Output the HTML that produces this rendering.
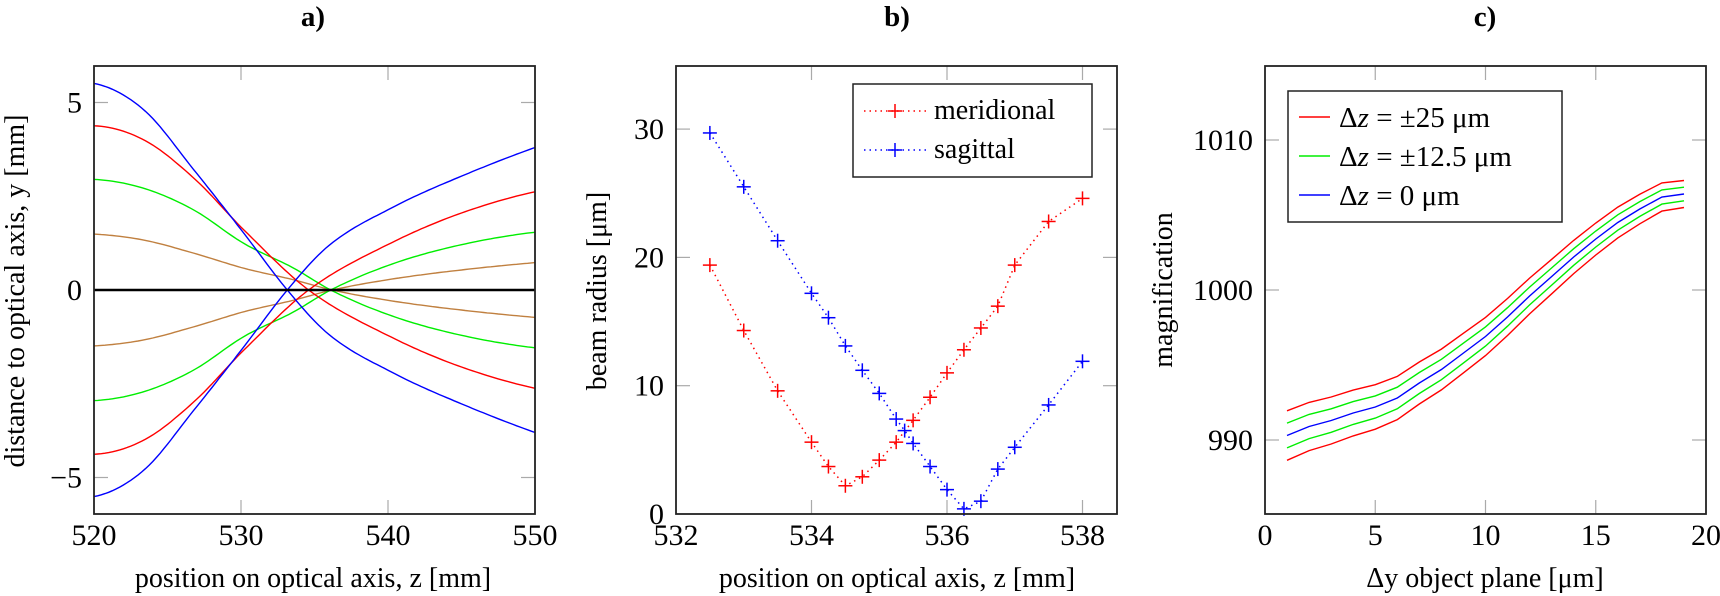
<!DOCTYPE html>
<html><head><meta charset="utf-8"><style>
html,body{margin:0;padding:0;background:#fff;}
svg{display:block;font-family:"Liberation Serif",serif;}
</style></head><body>
<svg id="s" width="1720" height="596" viewBox="0 0 1720 596" xmlns="http://www.w3.org/2000/svg">
<g font-weight="bold" font-size="29" text-anchor="middle">
<text x="313" y="26">a)</text><text x="897" y="26">b)</text><text x="1485" y="26">c)</text>
</g>
<g id="content"></g>
</svg>
<script>
const NS="http://www.w3.org/2000/svg";
const C=document.getElementById('content');
function el(t,a,txt){const e=document.createElementNS(NS,t);for(const k in a)e.setAttribute(k,a[k]);if(txt!==undefined)e.textContent=txt;C.appendChild(e);return e;}
function line(x1,y1,x2,y2,st,w,da){const a={x1,y1,x2,y2,stroke:st,'stroke-width':w||1};if(da)a['stroke-dasharray']=da;el('line',a);}
function txt(x,y,s,fs,anc,extra){const a={x,y,'font-size':fs,'text-anchor':anc||'middle'};Object.assign(a,extra||{});el('text',a,s);}
function axes(L,R,T,B,xt,yt){
  xt.forEach(x=>{line(x,T,x,T+14,'#aaa',1.2);line(x,B,x,B-14,'#aaa',1.2);});
  yt.forEach(y=>{line(L,y,L+14,y,'#aaa',1.2);line(R,y,R-14,y,'#aaa',1.2);});
}
function frame(L,R,T,B){el('rect',{x:L,y:T,width:R-L,height:B-T,fill:'none',stroke:'#222','stroke-width':1.8});}

function monotone(xs,ys){
  const n=xs.length,d=[],m=new Array(n);
  for(let i=0;i<n-1;i++)d.push((ys[i+1]-ys[i])/(xs[i+1]-xs[i]));
  for(let i=1;i<n-1;i++){m[i]=(d[i-1]*d[i]<=0)?0:(d[i-1]+d[i])/2;}
  m[0]=2*d[0]-m[1]; if(m[0]*d[0]<0)m[0]=0;
  m[n-1]=2*d[n-2]-m[n-2]; if(m[n-1]*d[n-2]<0)m[n-1]=0;
  for(let i=0;i<n-1;i++){
    if(d[i]===0){m[i]=m[i+1]=0;continue;}
    const a=m[i]/d[i],b=m[i+1]/d[i],s=a*a+b*b;
    if(s>9){const t=3/Math.sqrt(s);m[i]=t*a*d[i];m[i+1]=t*b*d[i];}
  }
  return function(x){
    let i=0;while(i<n-2&&x>xs[i+1])i++;
    const h=xs[i+1]-xs[i],t=(x-xs[i])/h,t2=t*t,t3=t2*t;
    return (2*t3-3*t2+1)*ys[i]+(t3-2*t2+t)*h*m[i]+(-2*t3+3*t2)*ys[i+1]+(t3-t2)*h*m[i+1];
  };
}

/* ---------- Panel a ---------- */
(function(){
const L=94,R=535,T=66,B=514;
const X=z=>L+(z-520)*(R-L)/30, Y=y=>290-y*37.5;
axes(L,R,T,B,[530,540].map(X),[5,0,-5].map(Y));
const curves=[
 ['#c08040',[520,523.4,526.8,530.2,533.6,536.2,540.4,544.9,550],[1.49,1.33,0.98,0.58,0.27,0,-0.3,-0.53,-0.73]],
 ['#00ee00',[520,523.4,526.8,530.2,533.6,536.1,540.4,544.9,550],[2.95,2.71,2.13,1.24,0.58,0,-0.71,-1.2,-1.54]],
 ['#ff0000',[520,523.4,526.8,530.2,534.6,540.4,544.9,550],[4.38,4.0,2.98,1.6,0,-1.29,-2.04,-2.62]],
 ['#0000ff',[520,523.4,526.8,530.2,533.15,535.9,540.4,544.9,550],[5.51,4.8,3.2,1.51,0,-1.16,-2.22,-3.02,-3.8]],
];
curves.forEach(([c,xs,ys])=>{
  const f=monotone(xs,ys);
  [1,-1].forEach(s=>{
    let d='';
    for(let z=520;z<=550.001;z+=0.25){d+=(d?'L':'M')+X(z).toFixed(1)+','+Y(s*f(z)).toFixed(1);}
    el('path',{d,fill:'none',stroke:c,'stroke-width':1.4});
  });
});
line(L,Y(0),R,Y(0),'#000',2.4);
frame(L,R,T,B);
[520,530,540,550].forEach(v=>txt(X(v),545,String(v),30));
txt(82,Y(5)+10,'5',30,'end');txt(82,Y(0)+10,'0',30,'end');txt(82,Y(-5)+10,'−5',30,'end');
txt(313,587,'position on optical axis, z [mm]',28);
txt(0,0,'distance to optical axis, y [mm]',28,'middle',{transform:'translate(24,291) rotate(-90)'});
})();

/* ---------- Panel b ---------- */
(function(){
const L=676,R=1117,T=66,B=514;
const X=z=>L+(z-532)*67.75, Y=y=>B-y*12.83;
axes(L,R,T,B,[534,536,538].map(X),[10,20,30].map(Y));
const mer=[[532.5,19.4],[533,14.3],[533.5,9.6],[534,5.6],[534.25,3.7],[534.5,2.2],[534.75,2.9],[535,4.2],[535.25,5.6],[535.5,7.3],[535.75,9.1],[536,11],[536.25,12.8],[536.5,14.5],[536.75,16.2],[537,19.4],[537.5,22.8],[538,24.6]];
const sag=[[532.5,29.7],[533,25.5],[533.5,21.3],[534,17.2],[534.25,15.3],[534.5,13.1],[534.75,11.2],[535,9.4],[535.25,7.4],[535.375,6.5],[535.5,5.5],[535.75,3.7],[536,1.9],[536.25,0.4],[536.5,1.0],[536.75,3.5],[537,5.2],[537.5,8.5],[538,11.9]];
function series(d,c){
  el('polyline',{points:d.map(p=>X(p[0]).toFixed(1)+','+Y(p[1]).toFixed(1)).join(' '),fill:'none',stroke:c,'stroke-width':1.5,'stroke-dasharray':'1.5 4'});
  d.forEach(p=>{const x=X(p[0]),y=Y(p[1]);line(x-7,y,x+7,y,c,1.5);line(x,y-7,x,y+7,c,1.5);});
}
series(mer,'#ff0000');series(sag,'#0000ff');
frame(L,R,T,B);
[532,534,536,538].forEach(v=>txt(X(v),545,String(v),30));
[0,10,20,30].forEach(v=>txt(664,Y(v)+10,String(v),30,'end'));
txt(897,587,'position on optical axis, z [mm]',28);
txt(0,0,'beam radius [μm]',28,'middle',{transform:'translate(606,291) rotate(-90)'});
el('rect',{x:853,y:84,width:239,height:93,fill:'#fff',stroke:'#222','stroke-width':1.5});
[['#ff0000',111,'meridional'],['#0000ff',150,'sagittal']].forEach(([c,y,t])=>{
  line(864,y,927,y,c,1.5,'1.5 4');
  line(888,y,902,y,c,1.5);line(895,y-7,895,y+7,c,1.5);
  txt(934,y+8,t,28,'start');
});
})();

/* ---------- Panel c ---------- */
(function(){
const L=1265,R=1706,T=66,B=514;
const X=x=>L+x*22.05, Y=y=>290-(y-1000)*15;
axes(L,R,T,B,[5,10,15].map(X),[990,1000,1010].map(Y));
const mid=[990.3,990.9,991.3,991.8,992.2,992.8,993.8,994.7,995.8,996.9,998.2,999.6,1000.9,1002.2,1003.4,1004.5,1005.4,1006.2,1006.4];
function off(i){return 1.65-(0.75)*(i/18);}
const sets=[['#0000ff',0],['#00ee00',0.5],['#00ee00',-0.5],['#ff0000',1],['#ff0000',-1]];
sets.forEach(([c,k])=>{
  el('polyline',{points:mid.map((m,i)=>X(i+1).toFixed(1)+','+Y(m+k*off(i)).toFixed(1)).join(' '),fill:'none',stroke:c,'stroke-width':1.4});
});
frame(L,R,T,B);
[0,5,10,15,20].forEach(v=>txt(X(v),545,String(v),30));
[990,1000,1010].forEach(v=>txt(1253,Y(v)+10,String(v),30,'end'));
txt(1485,587,'Δy object plane [μm]',28);
txt(0,0,'magnification',28,'middle',{transform:'translate(1172,290) rotate(-90)'});
el('rect',{x:1288,y:91,width:274,height:131,fill:'#fff',stroke:'#222','stroke-width':1.5});
[['#ff0000',117,'±25 μm'],['#00ee00',156,'±12.5 μm'],['#0000ff',195,'0 μm']].forEach(([c,y,t])=>{
  line(1299,y,1330,y,c,1.5);
  const e=el('text',{x:1339,y:y+10,'font-size':29,'text-anchor':'start'});
  e.innerHTML='Δ<tspan font-style="italic">z</tspan> = '+t;
});
})();
</script>
</body></html>
